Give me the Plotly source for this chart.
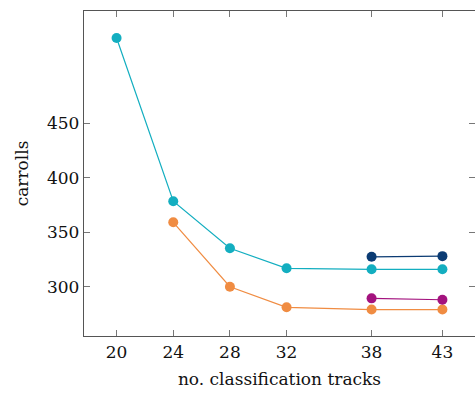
import plotly.graph_objects as go

# classification track counts on the x axis
tracks_cyan = [20, 24, 28, 32, 38, 43]
carrolls_cyan = [528.6, 378.6, 335.3, 316.9, 316.0, 316.0]

tracks_orange = [24, 28, 32, 38, 43]
carrolls_orange = [359.2, 300.0, 281.1, 279.0, 279.0]

tracks_navy = [38, 43]
carrolls_navy = [327.5, 328.1]

tracks_magenta = [38, 43]
carrolls_magenta = [289.3, 288.0]

x_ticks = [20, 24, 28, 32, 38, 43]
y_ticks = [300, 350, 400, 450]

series = [
    (tracks_cyan, carrolls_cyan, "#13aec0"),
    (tracks_orange, carrolls_orange, "#f08c42"),
    (tracks_navy, carrolls_navy, "#0b3b73"),
    (tracks_magenta, carrolls_magenta, "#a3127e"),
]

fig = go.Figure()
for xs, ys, color in series:
    fig.add_trace(go.Scatter(
        x=xs, y=ys, mode="lines+markers",
        line=dict(color=color, width=1.2),
        marker=dict(color=color, size=10),
        showlegend=False,
    ))

# invisible trace that anchors the right-hand tick axis
fig.add_trace(go.Scatter(x=tracks_cyan, y=carrolls_cyan, yaxis="y2",
                         mode="markers", marker=dict(opacity=0),
                         hoverinfo="skip", showlegend=False))

font_family = "DejaVu Serif"
text_color = "#111111"
tick_font = dict(family=font_family, size=17, color=text_color)
y_range = [254.7, 553.4]

fig.update_xaxes(
    range=[17.7, 45.3], tickvals=x_ticks,
    showgrid=False, zeroline=False,
    showline=True, linecolor="#555555", linewidth=1.3,
    mirror="ticks", ticks="inside", ticklen=6, tickwidth=1,
    tickcolor="#777777", tickfont=tick_font,
    title=dict(text="no. classification tracks",
               font=dict(family=font_family, size=17, color=text_color),
               standoff=12),
)

fig.update_layout(
    width=475, height=396,
    margin=dict(l=84, r=0, t=11, b=60),
    paper_bgcolor="white", plot_bgcolor="white",
    yaxis=dict(
        range=y_range, tickvals=y_ticks,
        showgrid=False, zeroline=False,
        showline=True, linecolor="#555555", linewidth=1.3,
        ticks="inside", ticklen=6, tickwidth=1,
        tickcolor="#777777", tickfont=tick_font,
        title=dict(text="carrolls",
                   font=dict(family=font_family, size=17, color=text_color),
                   standoff=14),
    ),
    yaxis2=dict(
        overlaying="y", side="right", range=y_range, tickvals=y_ticks,
        showgrid=False, zeroline=False, showline=False,
        showticklabels=False, ticks="inside", ticklen=6, tickwidth=1,
        tickcolor="#777777",
    ),
)

fig.write_html("out.html")
